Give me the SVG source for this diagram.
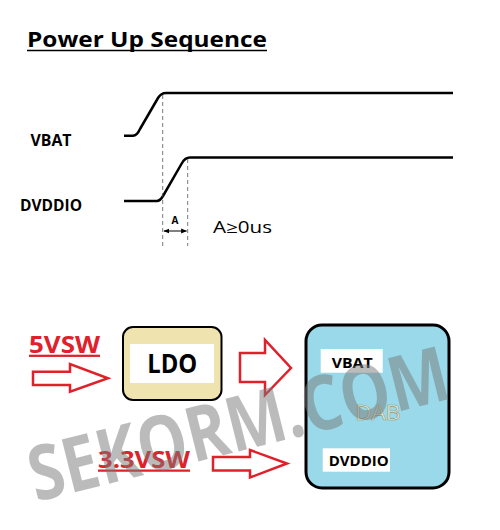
<svg xmlns="http://www.w3.org/2000/svg" width="500" height="530" viewBox="0 0 500 530">
<style>
.wave{fill:none;stroke:#000;stroke-width:2.5;stroke-linejoin:round}
.dash{fill:none;stroke:#555;stroke-width:0.8;stroke-dasharray:4,3}
.lbl{font-family:"Open Sans","Liberation Sans",sans-serif;font-weight:bold;fill:#000}
.red{font-family:"Open Sans","Liberation Sans",sans-serif;font-weight:bold;fill:#E0202A;text-decoration:underline}
.arr{fill:#fff;stroke:#E0202A;stroke-width:2.5;stroke-linejoin:miter}
</style>
<defs>
<marker id="ah" viewBox="0 0 10 10" refX="9" refY="5" markerWidth="6" markerHeight="6" orient="auto-start-reverse">
<path d="M0,1 L10,5 L0,9 Z" fill="#000"/>
</marker>
</defs>
<rect width="500" height="530" fill="#fff"/>
<g id="title">
<text x="27" y="47" class="lbl" font-size="21" textLength="240" lengthAdjust="spacingAndGlyphs">Power Up Sequence</text>
<line x1="27" y1="50.5" x2="267" y2="50.5" stroke="#000" stroke-width="1.5"/>
</g>
<g id="timing">
<path class="wave" d="M124,135.7 H133 Q137,135.7 140,129 L158,98 Q161,93 166,93 H453"/>
<path class="wave" d="M124,201 H157 Q160,201 163,196 L182,163 Q185,157.5 190,157.5 H453"/>
<line class="dash" x1="162.7" y1="95" x2="162.7" y2="246"/>
<line class="dash" x1="187.7" y1="159" x2="187.7" y2="246"/>
<line x1="164" y1="231" x2="186.5" y2="231" stroke="#000" stroke-width="1" marker-start="url(#ah)" marker-end="url(#ah)"/>
<text x="175" y="224" class="lbl" font-size="10" text-anchor="middle">A</text>
<text x="213" y="233" font-family="Open Sans,Liberation Sans,sans-serif" font-size="16" fill="#000" textLength="59" lengthAdjust="spacingAndGlyphs">A≥0us</text>
<text x="30.5" y="145.7" class="lbl" font-size="15.5" textLength="41" lengthAdjust="spacingAndGlyphs">VBAT</text>
<text x="20" y="210.7" class="lbl" font-size="15.5" textLength="62" lengthAdjust="spacingAndGlyphs">DVDDIO</text>
</g>
<g id="connectors">
<path class="arr" d="M33,371.7 H70 V364 L108,378.3 L70,391.7 V385 H33 Z"/>
<path class="arr" d="M240,353 H265 V340 L291,368 L265,395 V382 H240 Z"/>
<path class="arr" d="M213,457 H250 V450 L287,463.5 L250,477.5 V470.5 H213 Z"/>
</g>
<g id="label-5vsw">
<text x="29" y="352.7" class="red" font-size="22.5" textLength="71" lengthAdjust="spacingAndGlyphs">5VSW</text>
</g>
<g id="label-33vsw">
<text x="98" y="467.5" class="red" font-size="22.5" textLength="92" lengthAdjust="spacingAndGlyphs">3.3VSW</text>
</g>
<g id="ldo">
<rect x="123" y="327" width="98.5" height="73" rx="10" fill="#EFE4B0" stroke="#000" stroke-width="2"/>
<rect x="130" y="344" width="84" height="39" fill="#fff"/>
<text x="147.3" y="373.3" class="lbl" font-size="26" textLength="50" lengthAdjust="spacingAndGlyphs">LDO</text>
</g>
<g id="dab">
<rect x="306" y="325" width="143" height="163" rx="16" fill="#99D9EA" stroke="#000" stroke-width="3"/>
<rect x="320.7" y="349" width="62" height="23.7" fill="#fff"/>
<text x="331.7" y="367.5" class="lbl" font-size="15" textLength="41" lengthAdjust="spacingAndGlyphs">VBAT</text>
<text x="378" y="420" font-family="Liberation Sans,sans-serif" font-size="22" fill="#d8eef3" stroke="#9a9660" stroke-width="0.6" text-anchor="middle">DAB</text>
<rect x="322.7" y="448.3" width="67.3" height="23.4" fill="#fff"/>
<text x="328.7" y="465.5" class="lbl" font-size="15" textLength="60" lengthAdjust="spacingAndGlyphs">DVDDIO</text>
</g>
<g id="watermark" opacity="0.5">
<text transform="translate(36,502) rotate(-14)" font-family="Open Sans,Liberation Sans,sans-serif" font-weight="bold" font-size="76" fill="#7a7a7a" textLength="430" lengthAdjust="spacingAndGlyphs">SEKORM.COM</text>
</g>
</svg>
